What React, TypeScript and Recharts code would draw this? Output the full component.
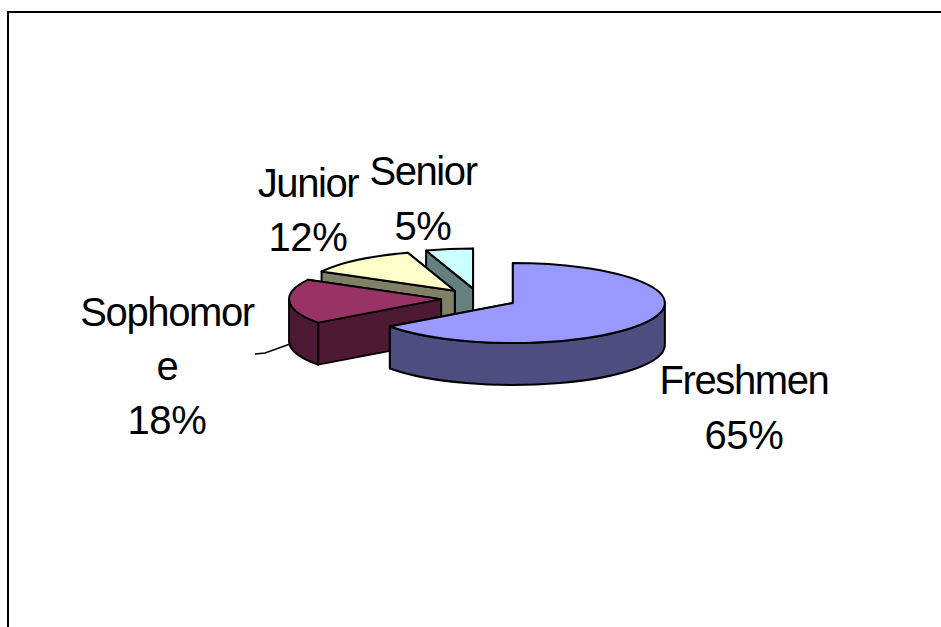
import { Pie, PieChart } from "recharts";

// drawn back to front, so the order runs anticlockwise from 12 o'clock
const CATEGORIES = ["Senior", "Junior", "Sophomore", "Freshmen"];
const VALUES = [5, 12, 18, 65];
const TOP_COLORS = ["#CCFFFF", "#FFFFCC", "#993366", "#9999FF"];
const SIDE_COLORS = ["#668080", "#808066", "#4D1933", "#4D4D80"];

const data = CATEGORIES.map((name, i) => ({ name, value: VALUES[i], index: i }));

const W = 941;
const H = 627;
const SQUASH = 40 / 152;
const DEPTH = 42;
const EXPLODE = 38;
const RAD = Math.PI / 180;
const FONT = "'Liberation Sans', Arial, sans-serif";

// wrapped the way the original wraps them
const LABELS: Record<string, { x: number; y: number[]; lines: string[] }> = {
  Senior: { x: 423, y: [185, 240], lines: ["Senior"] },
  Junior: { x: 308, y: [197, 251], lines: ["Junior"] },
  Sophomore: { x: 167, y: [326, 380, 434], lines: ["Sophomor", "e"] },
  Freshmen: { x: 744, y: [394, 449], lines: ["Freshmen"] },
};

function Slice3D(props: any) {
  const { cx, cy, outerRadius: rx, startAngle, endAngle, index } = props;
  const ry = rx * SQUASH;
  const s = Math.min(startAngle, endAngle);
  const e = Math.max(startAngle, endAngle);
  const mid = ((s + e) / 2) * RAD;
  const ax = cx + EXPLODE * Math.cos(mid);
  const ay = cy - EXPLODE * SQUASH * Math.sin(mid);
  const rim = (a: number) => [ax + rx * Math.cos(a * RAD), ay - ry * Math.sin(a * RAD)];

  const top = TOP_COLORS[index];
  const side = SIDE_COLORS[index];
  const line = { stroke: "#000", strokeWidth: 2, strokeLinejoin: "round" as const };

  const [sx, sy] = rim(s);
  const [ex, ey] = rim(e);
  const large = e - s > 180 ? 1 : 0;

  // cut faces, the one further back first
  const faces = [s, e].sort((a, b) => rim(a)[1] - rim(b)[1]).map((a) => {
    const [x, y] = rim(a);
    return `M${ax},${ay} L${x},${y} L${x},${y + DEPTH} L${ax},${ay + DEPTH} Z`;
  });

  // outer wall, only the front half of the ellipse shows
  const walls: string[] = [];
  for (const [lo, hi] of [[180, 360], [540, 720]]) {
    const a1 = Math.max(s, lo);
    const a2 = Math.min(e, hi);
    if (a2 <= a1) continue;
    const [x1, y1] = rim(a1);
    const [x2, y2] = rim(a2);
    walls.push(
      `M${x1},${y1} A${rx},${ry} 0 0 0 ${x2},${y2} L${x2},${y2 + DEPTH} A${rx},${ry} 0 0 1 ${x1},${y1 + DEPTH} Z`
    );
  }

  return (
    <g>
      {faces.map((d, i) => (
        <path key={i} d={d} fill={side} {...line} />
      ))}
      {walls.map((d, i) => (
        <path key={i} d={d} fill={side} {...line} />
      ))}
      <path d={`M${ax},${ay} L${sx},${sy} A${rx},${ry} 0 ${large} 0 ${ex},${ey} Z`} fill={top} {...line} />
    </g>
  );
}

function renderLabel(props: any) {
  const { name, value } = props;
  const label = LABELS[name];
  const lines = [...label.lines, `${value}%`];
  return (
    <g key={name}>
      {name === "Sophomore" && <polyline points="255,354 265,353 290,344" fill="none" stroke="#000" strokeWidth={1.5} />}
      <text textAnchor="middle" fontFamily={FONT} fontSize={40} fill="#000">
        {lines.map((t, i) => (
          <tspan key={t} x={label.x} y={label.y[i]} letterSpacing={t.endsWith("%") ? -0.3 : -1.4}>
            {t}
          </tspan>
        ))}
      </text>
    </g>
  );
}

export default function App() {
  return (
    <div style={{ position: "absolute", left: 0, top: 0, width: W, height: H, overflow: "hidden", background: "#fff" }}>
      <div style={{ position: "absolute", left: 7, top: 11, width: W, height: H, borderLeft: "2px solid #000", borderTop: "2px solid #000" }} />
      <PieChart width={W} height={H} margin={{ top: 0, right: 0, bottom: 0, left: 0 }} style={{ position: "absolute", left: 0, top: 0 }}>
        <Pie
          data={data}
          dataKey="value"
          nameKey="name"
          cx={479}
          cy={298.5}
          innerRadius={0}
          outerRadius={152}
          startAngle={90}
          endAngle={450}
          paddingAngle={0}
          stroke="none"
          shape={Slice3D}
          label={renderLabel}
          labelLine={false}
          isAnimationActive={false}
        />
      </PieChart>
    </div>
  );
}
